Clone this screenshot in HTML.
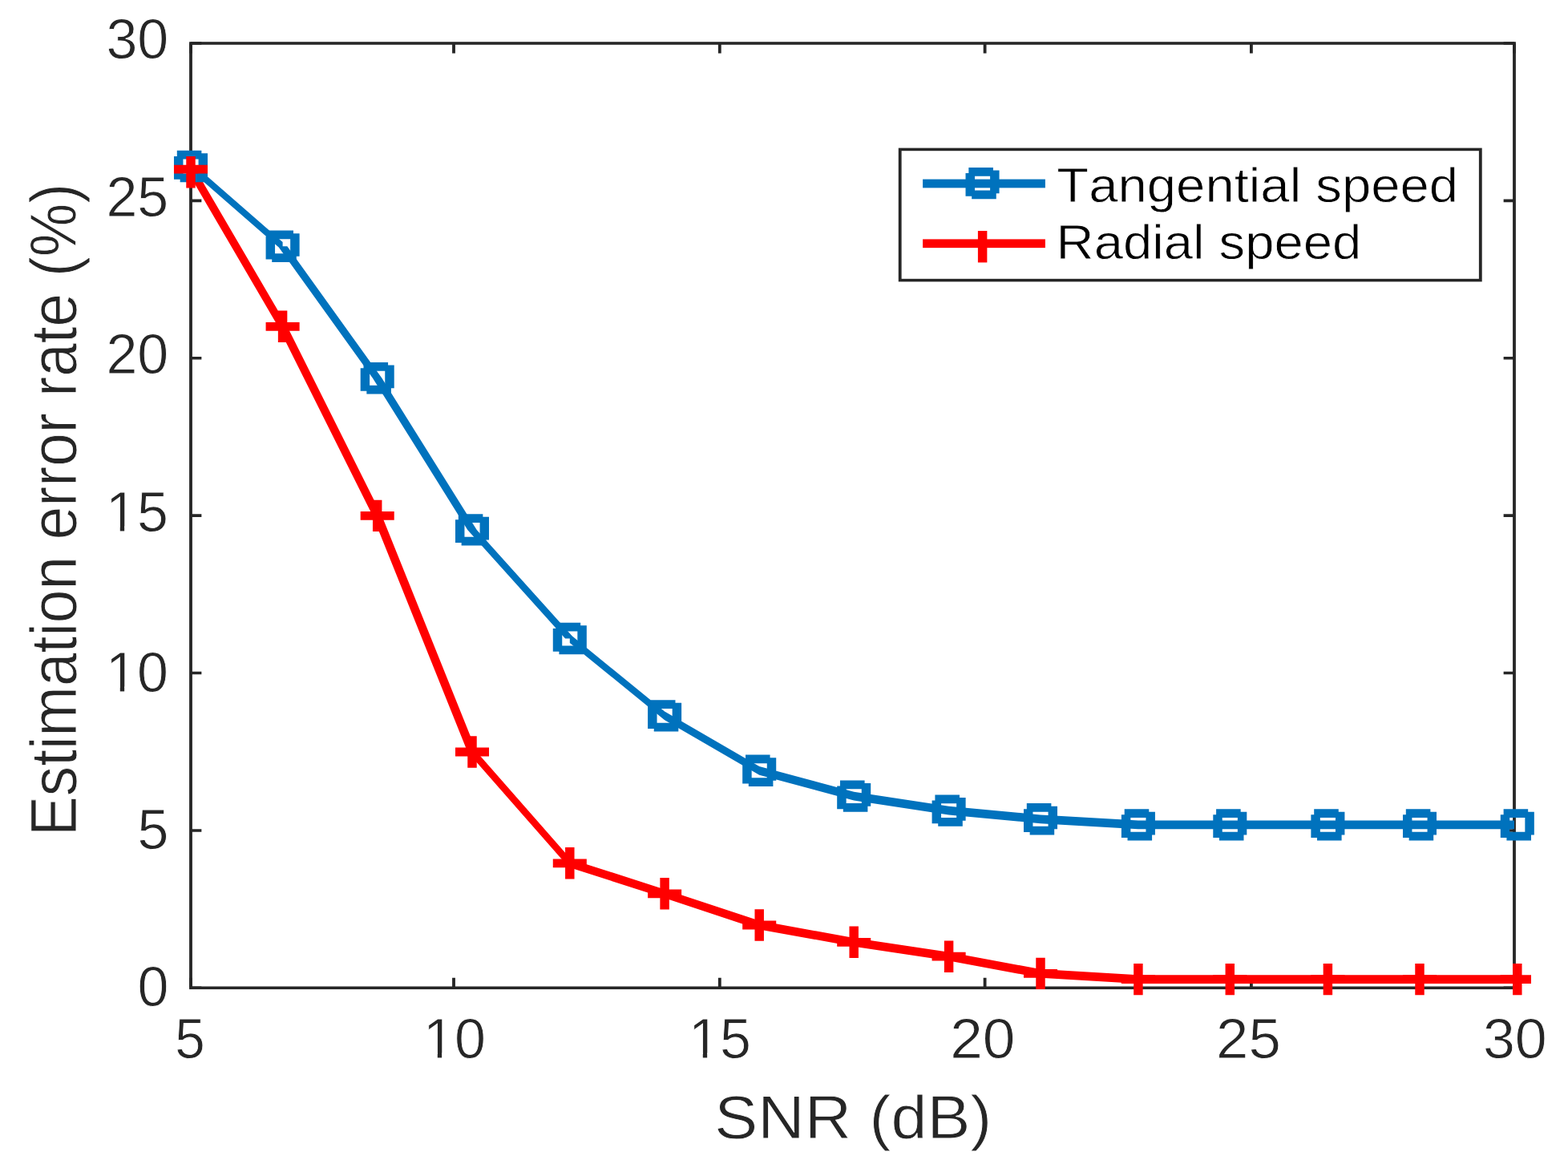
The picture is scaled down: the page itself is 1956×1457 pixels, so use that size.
<!DOCTYPE html><html><head><meta charset="utf-8"><title>Estimation error rate vs SNR</title>
<style>html,body{margin:0;padding:0;background:#fff;overflow:hidden;}svg{display:block;}text{font-family:"Liberation Sans",sans-serif;font-kerning:none;stroke:#fff;stroke-width:0.8px;paint-order:normal;}</style></head><body>
<svg width="1956" height="1457" viewBox="0 0 1956 1457">
<rect x="0" y="0" width="1956" height="1457" fill="#fff"/>
<g transform="scale(1.066,1)">
<path d="M223.26 1232.3V1219.75M223.26 54V66.55M530.96 1232.3V1219.75M530.96 54V66.55M842.21 1232.3V1219.75M842.21 54V66.55M1152.53 1232.3V1219.75M1152.53 54V66.55M1464.26 1232.3V1219.75M1464.26 54V66.55M1772.05 1232.3V1219.75M1772.05 54V66.55M223.26 1232.3H235.81M1772.05 1232.3H1759.5M223.26 1035.92H235.81M1772.05 1035.92H1759.5M223.26 839.53H235.81M1772.05 839.53H1759.5M223.26 643.15H235.81M1772.05 643.15H1759.5M223.26 446.77H235.81M1772.05 446.77H1759.5M223.26 250.38H235.81M1772.05 250.38H1759.5M223.26 54H235.81M1772.05 54H1759.5" stroke="#262626" stroke-width="3.585" fill="none"/>
<rect x="223.26" y="54" width="1548.78" height="1178.3" fill="none" stroke="#262626" stroke-width="3.585"/>
<path fill="#0072BD" d="M223.26 202.12L330.77 301.92L330.77 312.68L223.26 212.88ZM325.39 307.3L336.15 307.3L446.93 471.7L436.18 471.7ZM436.18 471.7L446.93 471.7L557.91 660.9L547.16 660.9ZM547.16 660.9L557.91 660.9L672.17 796.5L661.41 796.5ZM666.79 791.12L777.77 887.52L777.77 898.28L666.79 801.88ZM777.77 887.52L888.56 955.92L888.56 966.68L777.77 898.28ZM888.56 955.92L999.25 987.72L999.25 998.48L888.56 966.68ZM999.25 987.72L1110.32 1005.72L1110.32 1016.48L999.25 998.48ZM1110.32 1005.72L1217.64 1016.42L1217.64 1027.18L1110.32 1016.48ZM1217.64 1016.42L1331.99 1023.47L1331.99 1034.23L1217.64 1027.18ZM1331.99 1023.47L1439.31 1023.47L1439.31 1034.23L1331.99 1034.23ZM1439.31 1023.47L1553.85 1023.47L1553.85 1034.23L1439.31 1034.23ZM1553.85 1023.47L1661.35 1023.47L1661.35 1034.23L1553.85 1034.23ZM1661.35 1023.47L1772.05 1023.47L1772.05 1034.23L1661.35 1034.23Z"/>
<path fill="#FF0000" d="M217.89 211.1L228.64 211.1L336.15 407.3L325.39 407.3ZM325.39 407.3L336.15 407.3L446.93 643.4L436.18 643.4ZM436.18 643.4L446.93 643.4L557.91 938L547.16 938ZM547.16 938L557.91 938L672.17 1076.8L661.41 1076.8ZM666.79 1071.42L777.77 1109.42L777.77 1120.18L666.79 1082.18ZM777.77 1109.42L888.56 1148.62L888.56 1159.38L777.77 1120.18ZM888.56 1148.62L999.25 1169.92L999.25 1180.68L888.56 1159.38ZM999.25 1169.92L1110.32 1187.82L1110.32 1198.58L999.25 1180.68ZM1110.32 1187.82L1217.64 1209.02L1217.64 1219.78L1110.32 1198.58ZM1217.64 1209.02L1331.99 1216.22L1331.99 1226.98L1217.64 1219.78ZM1331.99 1216.22L1439.31 1216.22L1439.31 1226.98L1331.99 1226.98ZM1439.31 1216.22L1553.85 1216.22L1553.85 1226.98L1439.31 1226.98ZM1553.85 1216.22L1661.35 1216.22L1661.35 1226.98L1553.85 1226.98ZM1661.35 1216.22L1772.05 1216.22L1772.05 1226.98L1661.35 1226.98Z"/>
<path fill-rule="evenodd" fill="#0072BD" d="M207.13 187.78L235.81 187.78L235.81 191.37L242.98 191.37L242.98 220.05L239.4 220.05L239.4 227.22L210.72 227.22L210.72 223.63L203.55 223.63L203.55 194.95L207.13 194.95ZM214.3 198.54L232.23 198.54L232.23 216.46L214.3 216.46ZM314.64 287.58L343.32 287.58L343.32 291.17L350.49 291.17L350.49 319.85L346.9 319.85L346.9 327.02L318.22 327.02L318.22 323.43L311.05 323.43L311.05 294.75L314.64 294.75ZM321.81 298.34L339.73 298.34L339.73 316.26L321.81 316.26ZM425.42 451.98L454.1 451.98L454.1 455.57L461.27 455.57L461.27 484.25L457.69 484.25L457.69 491.42L429.01 491.42L429.01 487.83L421.84 487.83L421.84 459.15L425.42 459.15ZM432.59 462.74L450.52 462.74L450.52 480.66L432.59 480.66ZM536.4 641.18L565.08 641.18L565.08 644.77L572.25 644.77L572.25 673.45L568.67 673.45L568.67 680.62L539.99 680.62L539.99 677.03L532.82 677.03L532.82 648.35L536.4 648.35ZM543.57 651.94L561.5 651.94L561.5 669.86L543.57 669.86ZM650.66 776.78L679.34 776.78L679.34 780.37L686.51 780.37L686.51 809.05L682.92 809.05L682.92 816.22L654.24 816.22L654.24 812.63L647.07 812.63L647.07 783.95L650.66 783.95ZM657.83 787.54L675.75 787.54L675.75 805.46L657.83 805.46ZM761.63 873.18L790.31 873.18L790.31 876.77L797.48 876.77L797.48 905.45L793.9 905.45L793.9 912.62L765.22 912.62L765.22 909.03L758.05 909.03L758.05 880.35L761.63 880.35ZM768.8 883.94L786.73 883.94L786.73 901.86L768.8 901.86ZM872.42 941.58L901.1 941.58L901.1 945.17L908.27 945.17L908.27 973.85L904.69 973.85L904.69 981.02L876.01 981.02L876.01 977.43L868.84 977.43L868.84 948.75L872.42 948.75ZM879.59 952.34L897.52 952.34L897.52 970.26L879.59 970.26ZM983.12 973.38L1011.8 973.38L1011.8 976.97L1018.97 976.97L1018.97 1005.65L1015.38 1005.65L1015.38 1012.82L986.7 1012.82L986.7 1009.23L979.53 1009.23L979.53 980.55L983.12 980.55ZM990.29 984.14L1008.21 984.14L1008.21 1002.06L990.29 1002.06ZM1094.19 991.38L1122.87 991.38L1122.87 994.97L1130.04 994.97L1130.04 1023.65L1126.45 1023.65L1126.45 1030.82L1097.77 1030.82L1097.77 1027.23L1090.6 1027.23L1090.6 998.55L1094.19 998.55ZM1101.36 1002.14L1119.28 1002.14L1119.28 1020.06L1101.36 1020.06ZM1201.5 1002.08L1230.18 1002.08L1230.18 1005.67L1237.35 1005.67L1237.35 1034.35L1233.77 1034.35L1233.77 1041.52L1205.09 1041.52L1205.09 1037.93L1197.92 1037.93L1197.92 1009.25L1201.5 1009.25ZM1208.67 1012.84L1226.6 1012.84L1226.6 1030.76L1208.67 1030.76ZM1315.86 1009.13L1344.54 1009.13L1344.54 1012.72L1351.71 1012.72L1351.71 1041.4L1348.12 1041.4L1348.12 1048.57L1319.44 1048.57L1319.44 1044.98L1312.27 1044.98L1312.27 1016.3L1315.86 1016.3ZM1323.03 1019.89L1340.95 1019.89L1340.95 1037.81L1323.03 1037.81ZM1423.17 1009.13L1451.85 1009.13L1451.85 1012.72L1459.02 1012.72L1459.02 1041.4L1455.44 1041.4L1455.44 1048.57L1426.76 1048.57L1426.76 1044.98L1419.59 1044.98L1419.59 1016.3L1423.17 1016.3ZM1430.34 1019.89L1448.27 1019.89L1448.27 1037.81L1430.34 1037.81ZM1537.71 1009.13L1566.39 1009.13L1566.39 1012.72L1573.56 1012.72L1573.56 1041.4L1569.98 1041.4L1569.98 1048.57L1541.3 1048.57L1541.3 1044.98L1534.13 1044.98L1534.13 1016.3L1537.71 1016.3ZM1544.88 1019.89L1562.81 1019.89L1562.81 1037.81L1544.88 1037.81ZM1645.22 1009.13L1673.9 1009.13L1673.9 1012.72L1681.07 1012.72L1681.07 1041.4L1677.48 1041.4L1677.48 1048.57L1648.8 1048.57L1648.8 1044.98L1641.63 1044.98L1641.63 1016.3L1645.22 1016.3ZM1652.39 1019.89L1670.31 1019.89L1670.31 1037.81L1652.39 1037.81ZM1759.48 1009.13L1788.16 1009.13L1788.16 1012.72L1795.33 1012.72L1795.33 1041.4L1791.74 1041.4L1791.74 1048.57L1763.06 1048.57L1763.06 1044.98L1755.89 1044.98L1755.89 1016.3L1759.48 1016.3ZM1766.65 1019.89L1784.57 1019.89L1784.57 1037.81L1766.65 1037.81Z"/>
<path fill="#FF0000" d="M217.89 194.97L228.64 194.97L228.64 205.72L242.98 205.72L242.98 216.48L228.64 216.48L228.64 234.4L217.89 234.4L217.89 216.48L203.55 216.48L203.55 205.72L217.89 205.72ZM325.39 387.58L336.15 387.58L336.15 401.92L350.49 401.92L350.49 412.68L336.15 412.68L336.15 427.02L325.39 427.02L325.39 412.68L311.05 412.68L311.05 401.92L325.39 401.92ZM436.18 623.68L446.93 623.68L446.93 638.02L461.27 638.02L461.27 648.78L446.93 648.78L446.93 663.12L436.18 663.12L436.18 648.78L421.84 648.78L421.84 638.02L436.18 638.02ZM547.16 918.28L557.91 918.28L557.91 932.62L572.25 932.62L572.25 943.38L557.91 943.38L557.91 957.72L547.16 957.72L547.16 943.38L532.82 943.38L532.82 932.62L547.16 932.62ZM661.41 1057.08L672.17 1057.08L672.17 1071.42L686.51 1071.42L686.51 1082.18L672.17 1082.18L672.17 1096.52L661.41 1096.52L661.41 1082.18L647.07 1082.18L647.07 1071.42L661.41 1071.42ZM772.39 1095.08L783.14 1095.08L783.14 1109.42L797.48 1109.42L797.48 1120.18L783.14 1120.18L783.14 1134.52L772.39 1134.52L772.39 1120.18L758.05 1120.18L758.05 1109.42L772.39 1109.42ZM883.18 1134.28L893.93 1134.28L893.93 1148.62L908.27 1148.62L908.27 1159.38L893.93 1159.38L893.93 1173.72L883.18 1173.72L883.18 1159.38L868.84 1159.38L868.84 1148.62L883.18 1148.62ZM993.87 1155.58L1004.63 1155.58L1004.63 1169.92L1018.97 1169.92L1018.97 1180.68L1004.63 1180.68L1004.63 1195.02L993.87 1195.02L993.87 1180.68L979.53 1180.68L979.53 1169.92L993.87 1169.92ZM1104.94 1173.48L1115.7 1173.48L1115.7 1187.82L1130.04 1187.82L1130.04 1198.58L1115.7 1198.58L1115.7 1212.92L1104.94 1212.92L1104.94 1198.58L1090.6 1198.58L1090.6 1187.82L1104.94 1187.82ZM1212.26 1194.68L1223.01 1194.68L1223.01 1209.02L1237.35 1209.02L1237.35 1219.78L1223.01 1219.78L1223.01 1234.12L1212.26 1234.12L1212.26 1219.78L1197.92 1219.78L1197.92 1209.02L1212.26 1209.02ZM1326.61 1201.88L1337.37 1201.88L1337.37 1216.22L1351.71 1216.22L1351.71 1226.98L1337.37 1226.98L1337.37 1241.32L1326.61 1241.32L1326.61 1226.98L1312.27 1226.98L1312.27 1216.22L1326.61 1216.22ZM1433.93 1201.88L1444.68 1201.88L1444.68 1216.22L1459.02 1216.22L1459.02 1226.98L1444.68 1226.98L1444.68 1241.32L1433.93 1241.32L1433.93 1226.98L1419.59 1226.98L1419.59 1216.22L1433.93 1216.22ZM1548.47 1201.88L1559.22 1201.88L1559.22 1216.22L1573.56 1216.22L1573.56 1226.98L1559.22 1226.98L1559.22 1241.32L1548.47 1241.32L1548.47 1226.98L1534.13 1226.98L1534.13 1216.22L1548.47 1216.22ZM1655.97 1201.88L1666.73 1201.88L1666.73 1216.22L1681.07 1216.22L1681.07 1226.98L1666.73 1226.98L1666.73 1241.32L1655.97 1241.32L1655.97 1226.98L1641.63 1226.98L1641.63 1216.22L1655.97 1216.22ZM1770.23 1201.88L1780.99 1201.88L1780.99 1216.22L1791.74 1216.22L1791.74 1226.98L1780.99 1226.98L1780.99 1241.32L1770.23 1241.32L1770.23 1226.98L1755.89 1226.98L1755.89 1216.22L1770.23 1216.22Z"/>
<rect x="1053.19" y="186.4" width="679.27" height="163.2" fill="#fff" stroke="#262626" stroke-width="3.585"/>
<rect x="1079.83" y="223.6" width="143.34" height="10.75" fill="#0072BD"/>
<path fill-rule="evenodd" fill="#0072BD" d="M1133.54 208.88L1162.22 208.88L1162.22 212.47L1169.39 212.47L1169.39 241.15L1165.8 241.15L1165.8 248.32L1137.12 248.32L1137.12 244.73L1129.95 244.73L1129.95 216.05L1133.54 216.05ZM1140.71 219.64L1158.63 219.64L1158.63 237.56L1140.71 237.56Z"/>
<rect x="1079.83" y="298.4" width="143.34" height="10.75" fill="#FF0000"/>
<rect x="1144.37" y="288" width="10.75" height="39.44" fill="#FF0000"/>
</g>
<text transform="translate(171.4,1255.3)" font-size="70" fill="#262626" text-anchor="start">0</text>
<text transform="translate(171.4,1058.6)" font-size="70" fill="#262626" text-anchor="start">5</text>
<text transform="translate(132,863)" font-size="70" fill="#262626" text-anchor="start">10</text>
<path fill="#fff" d="M136.5 856.5H149.8V864H136.5ZM155.15 856.5H168.6V864H155.15Z"/>
<text transform="translate(132,663)" font-size="70" fill="#262626" text-anchor="start">15</text>
<path fill="#fff" d="M136.5 656.5H149.8V664H136.5ZM155.15 656.5H168.6V664H155.15Z"/>
<text transform="translate(132.4,465.7)" font-size="70" fill="#262626" text-anchor="start">20</text>
<text transform="translate(132.4,269.5)" font-size="70" fill="#262626" text-anchor="start">25</text>
<text transform="translate(132.4,73.4)" font-size="70" fill="#262626" text-anchor="start">30</text>
<text transform="translate(218.2,1319.5) scale(0.964,1.0)" font-size="70" fill="#262626" text-anchor="start">5</text>
<text transform="translate(528,1320)" font-size="70" fill="#262626" text-anchor="start">10</text>
<path fill="#fff" d="M532.5 1313.5H545.8V1321H532.5ZM551.15 1313.5H564.6V1321H551.15Z"/>
<text transform="translate(859,1320)" font-size="70" fill="#262626" text-anchor="start">15</text>
<path fill="#fff" d="M863.5 1313.5H876.8V1321H863.5ZM882.15 1313.5H895.6V1321H882.15Z"/>
<text transform="translate(1185.21,1319.5) scale(1.044,1.0)" font-size="70" fill="#262626" text-anchor="start">20</text>
<text transform="translate(1517.06,1319.5) scale(1.039,1.0)" font-size="70" fill="#262626" text-anchor="start">25</text>
<text transform="translate(1849.93,1319.5) scale(1.025,1.0)" font-size="70" fill="#262626" text-anchor="start">30</text>
<text transform="translate(1064.3,1419.7) scale(1.057,1.0)" font-size="76.5" fill="#262626" text-anchor="middle">SNR (dB)</text>
<text transform="translate(94.9,635.9) rotate(-90) scale(0.971,1.05)" font-size="77" fill="#262626" text-anchor="middle">Estimation error rate (%)</text>
<text transform="translate(1318.3,251.8) scale(1.053,1.0)" font-size="62" fill="#000" text-anchor="start">Tangential speed</text>
<text transform="translate(1317.6,322.9) scale(1.052,1.0)" font-size="62" fill="#000" text-anchor="start">Radial speed</text>
</svg></body></html>
